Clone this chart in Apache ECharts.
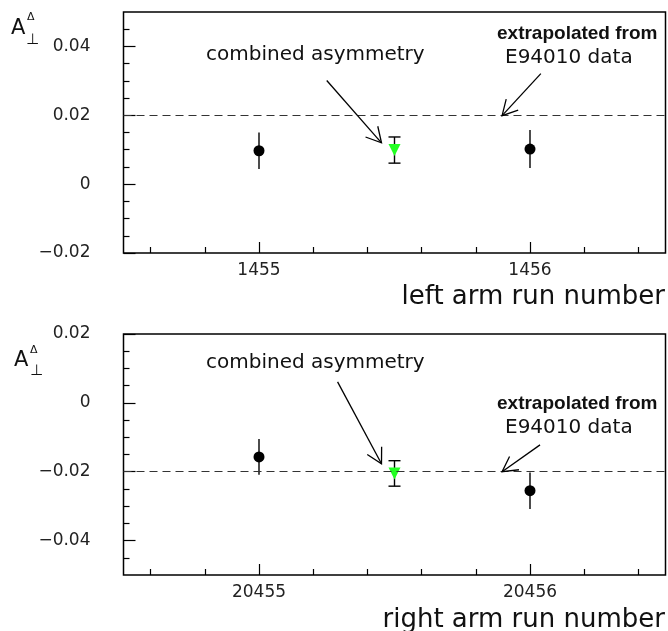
<!DOCTYPE html>
<html lang="en">
<head>
  <meta charset="UTF-8">
  <title>asymmetry per run</title>
</head>
<body style="margin:0; background-color:#fff;">
<div id="main" style="width:668px; height:631px;"></div>

<script src="https://cdn.jsdelivr.net/npm/echarts@6/dist/echarts.min.js"></script>

<script>
  // run numbers of each arm
  var leftRuns = [1455, 1456];
  var rightRuns = [20455, 20456];
  // measured asymmetry and its error, one per run
  var leftAsym = [0.0097, 0.0102];
  var leftErr = [0.0053, 0.0055];
  var rightAsym = [-0.0157, -0.0255];
  var rightErr = [0.0052, 0.0053];
  // combined asymmetry: [position, value, error]
  var leftCombined = [1455.5, 0.0099, 0.0038];
  var rightCombined = [20455.5, -0.0205, 0.0037];
  // value extrapolated from E94010 data
  var leftExtrap = 0.02;
  var rightExtrap = -0.02;

  // axis ranges and ticks
  var leftX = [1454.5, 1456.5];
  var rightX = [20454.5, 20456.5];
  var leftXMinor = [1454.6, 1454.8, 1455.2, 1455.4, 1455.6, 1455.8, 1456.2, 1456.4];
  var rightXMinor = [20454.6, 20454.8, 20455.2, 20455.4, 20455.6, 20455.8, 20456.2, 20456.4];
  var leftY = [-0.02, 0.05];
  var rightY = [-0.05, 0.02];
  var leftYTicks = [-0.02, 0, 0.02, 0.04];
  var rightYTicks = [-0.04, -0.02, 0, 0.02];
  var leftYMinor = [-0.015, -0.01, -0.005, 0.005, 0.01, 0.015, 0.025, 0.03, 0.035, 0.045];
  var rightYMinor = [-0.045, -0.035, -0.03, -0.025, -0.015, -0.01, -0.005, 0.005, 0.01, 0.015];

  // annotation arrows, [x from, y from, x to, y to] in data units
  var leftArrows = [[1455.25, 0.0301, 1455.452, 0.0120], [1456.04, 0.0321, 1455.897, 0.0199]];
  var rightArrows = [[20455.29, 0.0061, 20455.452, -0.0177], [20456.037, -0.0122, 20455.897, -0.0200]];

  var FONT = 'DejaVu Sans';
  var chartDom = document.getElementById('main');
  var myChart = echarts.init(chartDom);

  function fmtY(v) {
    if (Math.abs(v) < 1e-9) return '0';
    return (v < 0 ? '\u2212' : '') + Math.abs(v).toFixed(2);
  }

  function xAxes(grid, range, major, minor) {
    return [
      {
        type: 'value', gridIndex: grid, min: range[0], max: range[1], position: 'bottom',
        axisLine: { show: false, onZero: false }, splitLine: { show: false },
        axisTick: { inside: true, length: 11, customValues: major, lineStyle: { color: '#000', width: 1.2 } },
        axisLabel: {
          customValues: major, margin: 9, fontSize: 17, color: '#222', fontFamily: FONT,
          formatter: function (v) { return String(Math.round(v)); }
        }
      },
      {
        type: 'value', gridIndex: grid, min: range[0], max: range[1], position: 'bottom',
        axisLine: { show: false, onZero: false }, splitLine: { show: false }, axisLabel: { show: false },
        axisTick: { inside: true, length: 6, customValues: minor, lineStyle: { color: '#000', width: 1.2 } }
      }
    ];
  }

  function yAxes(grid, range, major, minor) {
    return [
      {
        type: 'value', gridIndex: grid, min: range[0], max: range[1], position: 'left',
        axisLine: { show: false, onZero: false }, splitLine: { show: false },
        axisTick: { inside: true, length: 12, customValues: major, lineStyle: { color: '#000', width: 1.2 } },
        axisLabel: { customValues: major, margin: 33, fontSize: 17, color: '#222', fontFamily: FONT, formatter: fmtY }
      },
      {
        type: 'value', gridIndex: grid, min: range[0], max: range[1], position: 'left',
        axisLine: { show: false, onZero: false }, splitLine: { show: false }, axisLabel: { show: false },
        axisTick: { inside: true, length: 6, customValues: minor, lineStyle: { color: '#000', width: 1.2 } }
      }
    ];
  }

  // vertical error bar, caps only when capW > 0
  function errBar(capW) {
    return function (params, api) {
      var x = api.value(0), y = api.value(1), e = api.value(2);
      var lo = api.coord([x, y - e]);
      var hi = api.coord([x, y + e]);
      var st = { stroke: '#000', lineWidth: 1.4 };
      var ch = [{ type: 'line', shape: { x1: lo[0], y1: lo[1], x2: hi[0], y2: hi[1] }, style: st }];
      if (capW) {
        ch.push({ type: 'line', shape: { x1: lo[0] - capW / 2, y1: lo[1], x2: lo[0] + capW / 2, y2: lo[1] }, style: st });
        ch.push({ type: 'line', shape: { x1: hi[0] - capW / 2, y1: hi[1], x2: hi[0] + capW / 2, y2: hi[1] }, style: st });
      }
      return { type: 'group', children: ch };
    };
  }

  function arrow(params, api) {
    var p1 = api.coord([api.value(0), api.value(1)]);
    var p2 = api.coord([api.value(2), api.value(3)]);
    var ang = Math.atan2(p1[1] - p2[1], p1[0] - p2[0]);
    var len = 17, spread = 0.5;
    var h1 = [p2[0] + len * Math.cos(ang + spread), p2[1] + len * Math.sin(ang + spread)];
    var h2 = [p2[0] + len * Math.cos(ang - spread), p2[1] + len * Math.sin(ang - spread)];
    var st = { stroke: '#000', lineWidth: 1.3, fill: null };
    return {
      type: 'group', children: [
        { type: 'line', shape: { x1: p1[0], y1: p1[1], x2: p2[0], y2: p2[1] }, style: st },
        { type: 'polyline', shape: { points: [h1, p2, h2] }, style: st }
      ]
    };
  }

  function panelSeries(grid, runs, asym, err, comb, extrap, arrows) {
    var xi = grid * 2, yi = grid * 2;
    var pts = runs.map(function (r, k) { return [r, asym[k], err[k]]; });
    return [
      { type: 'custom', xAxisIndex: xi, yAxisIndex: yi, renderItem: errBar(0), data: pts, z: 2 },
      { type: 'custom', xAxisIndex: xi, yAxisIndex: yi, renderItem: errBar(12), data: [comb], z: 2 },
      {
        type: 'scatter', xAxisIndex: xi, yAxisIndex: yi, symbol: 'circle', symbolSize: 11,
        itemStyle: { color: '#000', opacity: 1 }, data: pts.map(function (p) { return [p[0], p[1]]; }), z: 3
      },
      {
        type: 'scatter', xAxisIndex: xi, yAxisIndex: yi, symbol: 'triangle', symbolRotate: 180, symbolSize: 12,
        itemStyle: { color: '#22ff22', opacity: 1 }, data: [[comb[0], comb[1]]], z: 3,
        markLine: {
          silent: true, symbol: ['none', 'none'], label: { show: false }, z: 4,
          lineStyle: { color: '#333', width: 1.2, type: [8, 5] },
          data: [{ yAxis: extrap }]
        }
      },
      { type: 'custom', xAxisIndex: xi, yAxisIndex: yi, renderItem: arrow, data: arrows, clip: false, z: 5 }
    ];
  }

  function txt(x, y, s, size, opt) {
    opt = opt || {};
    return {
      type: 'text', x: x, y: y,
      style: {
        text: s, fontSize: size, fontFamily: opt.family || FONT, fontWeight: opt.weight || 'normal',
        fill: '#111', align: opt.align || 'left', verticalAlign: 'middle'
      }
    };
  }

  var option = {
    backgroundColor: '#fff',
    animation: false,
    grid: [
      { left: 123.5, top: 12, width: 542, height: 241, show: true, borderColor: '#000', borderWidth: 1.5, backgroundColor: 'transparent' },
      { left: 123.5, top: 334, width: 542, height: 241, show: true, borderColor: '#000', borderWidth: 1.5, backgroundColor: 'transparent' }
    ],
    xAxis: xAxes(0, leftX, leftRuns, leftXMinor).concat(xAxes(1, rightX, rightRuns, rightXMinor)),
    yAxis: yAxes(0, leftY, leftYTicks, leftYMinor).concat(yAxes(1, rightY, rightYTicks, rightYMinor)),
    series: panelSeries(0, leftRuns, leftAsym, leftErr, leftCombined, leftExtrap, leftArrows)
      .concat(panelSeries(1, rightRuns, rightAsym, rightErr, rightCombined, rightExtrap, rightArrows)),
    graphic: [
      // axis symbols
      txt(11, 29, 'A', 21), txt(27, 17, '\u0394', 11), txt(26, 40, '\u22A5', 15),
      txt(14, 361, 'A', 21), txt(30, 350, '\u0394', 11), txt(30, 371, '\u22A5', 15),
      // axis titles
      txt(665, 297, 'left arm run number', 26, { align: 'right' }),
      txt(665, 620, 'right arm run number', 26, { align: 'right' }),
      // notes
      txt(206, 55, 'combined asymmetry', 20),
      txt(497, 34, 'extrapolated from', 19, { weight: 'bold', family: 'Liberation Sans' }),
      txt(505, 58, 'E94010 data', 20),
      txt(206, 363, 'combined asymmetry', 20),
      txt(497, 404, 'extrapolated from', 19, { weight: 'bold', family: 'Liberation Sans' }),
      txt(505, 428, 'E94010 data', 20)
    ]
  };

  myChart.setOption(option);
</script>
</body>
</html>
